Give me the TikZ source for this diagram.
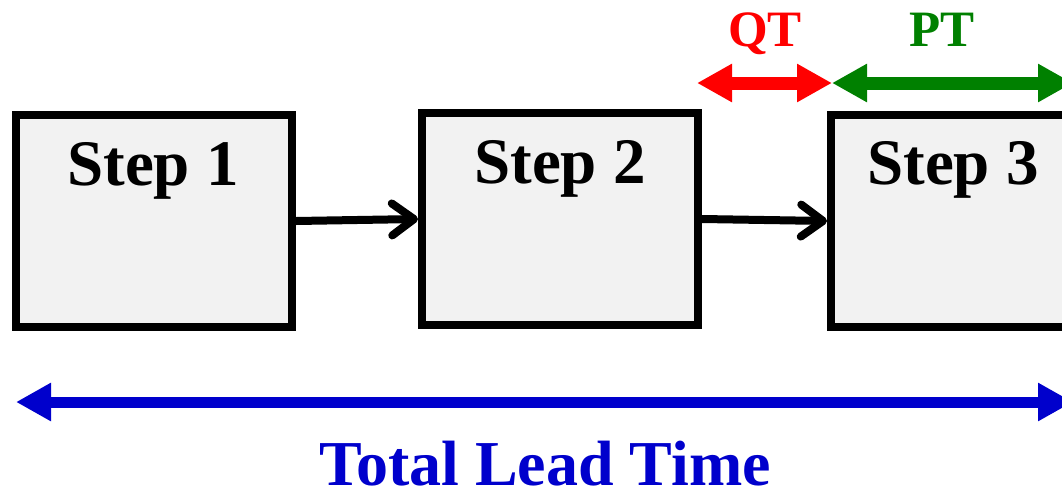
\documentclass[tikz,border=0pt]{standalone}
\usepackage{fontspec}
\setmainfont{Liberation Serif}
\usetikzlibrary{arrows.meta}
\definecolor{boxfill}{HTML}{F2F2F2}
\definecolor{qtred}{HTML}{FF0000}
\definecolor{ptgreen}{HTML}{008000}
\definecolor{tlblue}{HTML}{0000CC}
\tikzset{
  stepbox/.style={draw=black, line width=8pt, fill=boxfill, rectangle,
    minimum width=276pt, minimum height=212pt, inner sep=0pt},
  steplabel/.style={anchor=base, inner sep=0pt, font=\fontsize{65}{70}\selectfont\bfseries},
  totallabel/.style={anchor=base, inner sep=0pt, font=\fontsize{64}{68}\selectfont\bfseries},
  timelabel/.style={anchor=base, inner sep=0pt, font=\fontsize{51}{56}\selectfont\bfseries},
  flow/.style={line width=8pt, line cap=round, draw=black,
    -{Straight Barb[length=22pt,width=32pt,line cap=round,line join=round]}},
  span/.style={line width=#1, {Triangle[length=35pt,width=36pt]}-{Triangle[length=35pt,width=36pt]}},
}
\begin{document}
\begin{tikzpicture}[x=1pt,y=-1pt]
\useasboundingbox (0,0) rectangle (1062,493);
\begin{scope}
\clip (0,0) rectangle (1062,493);
% boxes
\node[stepbox] (b1) at (154,221) {};
\node[stepbox] (b2) at (560,219) {};
\node[stepbox] (b3) at (969,221) {};
% flow arrows
\draw[flow] (b1.east) -- (b2.west);
\draw[flow] (b2.east) -- (b3.west);
% QT / PT spans
\coordinate (qtL) at (697,83);
\coordinate (qtR) at (832,83);
\coordinate (ptR) at (1073,83);
\draw[span=13pt, draw=qtred, fill=qtred] (qtL) -- (qtR);
\draw[span=13pt, draw=ptgreen, fill=ptgreen] (qtR) -- (ptR);
% total lead time span
\coordinate (tlL) at (16,402);
\coordinate (tlR) at (1073,402);
\draw[span=11pt, draw=tlblue, fill=tlblue] (tlL) -- (tlR);
\end{scope}
% labels in boxes
\node[steplabel] (t1) at (153,185) {Step 1};
\node[steplabel] (t2) at (560,183) {Step 2};
\node[steplabel] (t3) at (953,184) {Step 3};
\node[timelabel, text=qtred] (qt) at (765,46) {QT};
\node[timelabel, text=ptgreen] (pt) at (942,46) {PT};
\node[totallabel, text=tlblue] (tl) at (545,485) {Total Lead Time};
\end{tikzpicture}
\end{document}
